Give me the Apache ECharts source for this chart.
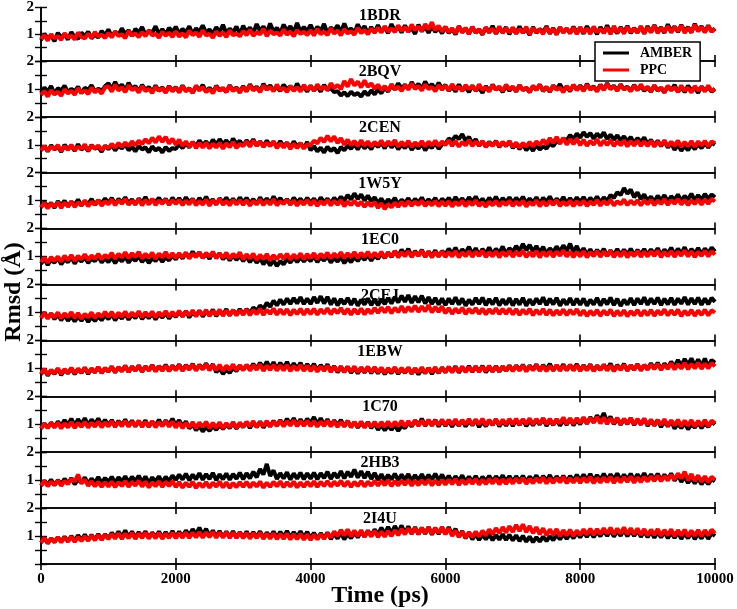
<!DOCTYPE html>
<html>
<head>
<meta charset="utf-8">
<script src="https://cdn.jsdelivr.net/npm/echarts@6/dist/echarts.min.js"></script>
<style>html,body{margin:0;padding:0;background:#fff}#c{width:737px;height:609px}</style>
</head>
<body>
<div id="c"></div>
<script>
const panelNames = ['1BDR','2BQV','2CEN','1W5Y','1EC0','2CEJ','1EBW','1C70','2HB3','2I4U'];
const xTicks = [0, 2000, 4000, 6000, 8000, 10000];
const yTickLabels = ['', '1', '2'];
const timeStep = 50; // ps between samples

const amber1BDR = [
0.78,1.02,0.85,0.96,0.74,1.05,0.88,0.99,0.8,1.08,0.9,0.83,1.06,0.92,1.1,0.84,0.99,0.87,1.12,0.95,
1.18,0.92,1.1,0.97,1.22,1.0,1.15,0.93,1.2,1.05,1.27,0.98,1.13,1.06,1.3,1.01,1.19,0.99,1.24,1.08,
1.28,1.02,1.2,1.06,1.3,0.99,1.22,1.1,1.33,1.04,1.18,1.01,1.26,1.08,1.35,1.03,1.21,1.07,1.29,1.0,
1.32,1.08,1.25,1.05,1.38,1.12,1.29,1.06,1.4,1.1,1.24,1.04,1.36,1.13,1.3,1.07,1.42,1.09,1.27,1.11,
1.35,1.06,1.28,1.12,1.39,1.03,1.25,1.14,1.33,1.07,1.4,1.1,1.22,1.05,1.37,1.13,1.3,1.02,1.27,1.08,
1.34,1.09,1.26,1.04,1.38,1.12,1.29,1.06,1.33,1.1,1.24,1.01,1.36,1.11,1.28,1.05,1.31,1.08,1.25,1.03,
1.27,1.04,1.2,0.99,1.3,1.07,1.22,1.01,1.28,1.05,1.18,0.98,1.25,1.06,1.31,1.02,1.21,1.08,1.26,1.0,
1.24,1.03,1.29,1.06,1.2,0.97,1.27,1.05,1.19,1.08,1.3,1.02,1.23,0.99,1.26,1.07,1.21,1.04,1.28,1.06,
1.25,1.02,1.3,1.08,1.22,1.0,1.27,1.05,1.33,1.07,1.2,1.03,1.26,1.09,1.31,1.04,1.23,1.06,1.28,1.02,
1.3,1.07,1.34,1.1,1.26,1.05,1.37,1.12,1.29,1.08,1.35,1.11,1.27,1.06,1.39,1.13,1.3,1.09,1.33,1.1,
1.22];
const ppc1BDR = [
0.82,0.97,0.76,1.0,0.85,0.93,0.79,1.04,0.88,0.95,0.8,1.06,0.9,0.84,1.02,0.87,1.08,0.91,0.98,0.86,
1.05,0.88,1.1,0.93,1.0,0.85,1.12,0.95,1.03,0.89,1.08,0.92,1.14,0.96,1.01,0.87,1.09,0.94,1.05,0.9,
1.11,0.91,1.04,0.88,1.13,0.97,1.06,0.9,1.15,0.95,1.02,0.87,1.1,0.94,1.07,0.89,1.14,0.96,1.03,0.92,
1.12,0.96,1.17,0.94,1.08,0.99,1.2,0.93,1.13,1.0,1.06,0.95,1.18,0.98,1.1,0.92,1.16,1.01,1.09,0.97,
1.15,0.95,1.2,1.0,1.1,0.97,1.22,1.02,1.14,0.96,1.19,1.03,1.11,0.98,1.24,1.04,1.16,1.0,1.21,1.05,
1.25,1.06,1.3,1.1,1.22,1.08,1.33,1.12,1.27,1.09,1.36,1.15,1.29,1.11,1.38,1.18,1.45,1.14,1.32,1.1,
1.28,1.07,1.22,1.03,1.3,1.06,1.24,1.01,1.27,1.05,1.19,1.0,1.26,1.08,1.21,1.02,1.29,1.04,1.23,1.06,
1.25,1.02,1.2,1.05,1.28,1.0,1.23,1.07,1.18,1.01,1.26,1.04,1.21,0.99,1.27,1.06,1.22,1.03,1.25,1.0,
1.27,1.05,1.22,1.01,1.29,1.07,1.2,1.04,1.26,1.0,1.31,1.06,1.23,1.02,1.28,1.08,1.21,1.05,1.3,1.03,
1.26,1.07,1.32,1.04,1.24,1.09,1.3,1.06,1.27,1.1,1.33,1.05,1.25,1.08,1.35,1.11,1.28,1.06,1.31,1.09,
1.2];

const amber2BQV = [
0.85,1.05,0.9,1.1,0.82,1.02,0.94,1.12,0.87,1.0,0.92,1.08,0.84,1.04,0.96,1.13,0.89,1.01,0.93,1.09,
1.2,0.98,1.25,1.03,1.15,0.95,1.22,1.0,1.1,0.92,1.14,0.96,1.07,0.89,1.12,0.94,1.05,0.88,1.1,0.93,
1.06,0.88,1.12,0.93,1.02,0.86,1.09,0.95,1.14,0.9,1.04,0.87,1.11,0.96,1.0,0.89,1.13,0.94,1.05,0.91,
1.1,0.93,1.16,0.97,1.08,0.91,1.18,1.0,1.12,0.95,1.07,0.92,1.15,0.98,1.1,0.94,1.19,0.96,1.06,0.9,
1.12,0.94,1.08,0.9,1.14,0.96,1.02,0.88,0.92,0.76,0.88,0.74,0.9,0.78,0.85,0.72,0.91,0.77,0.95,0.8,
0.98,0.84,1.05,0.9,1.12,0.98,1.2,1.02,1.15,0.99,1.24,1.04,1.18,1.0,1.26,1.05,1.17,0.98,1.22,1.01,
1.14,0.93,1.08,0.9,1.16,0.95,1.06,0.88,1.12,0.94,1.03,0.86,1.1,0.92,1.15,0.97,1.05,0.89,1.11,0.93,
1.07,0.9,1.13,0.95,1.04,0.88,1.1,0.96,1.15,0.92,1.06,0.89,1.12,0.98,1.17,0.94,1.08,0.91,1.14,0.97,
1.12,0.95,1.18,0.99,1.09,0.93,1.15,0.97,1.2,1.0,1.11,0.94,1.16,0.98,1.08,0.92,1.14,0.96,1.1,0.93,
1.06,0.89,1.12,0.94,1.03,0.87,1.1,0.95,1.14,0.9,1.05,0.88,1.11,0.96,1.02,0.86,1.09,0.93,1.07,0.9,
1.0];
const ppc2BQV = [
0.78,0.92,0.72,0.95,0.8,0.9,0.75,0.98,0.84,0.93,0.79,1.02,0.86,0.95,0.81,1.04,0.88,0.97,0.83,1.05,
1.1,0.9,1.15,0.94,1.06,0.88,1.12,0.96,1.04,0.87,1.1,0.92,1.0,0.85,1.08,0.93,1.02,0.86,1.09,0.91,
1.05,0.87,1.1,0.91,1.02,0.85,1.12,0.95,1.06,0.88,1.0,0.84,1.09,0.93,1.04,0.89,1.11,0.92,1.03,0.86,
1.08,0.9,1.13,0.94,1.05,0.88,1.12,0.97,1.07,0.91,1.15,0.95,1.04,0.89,1.1,0.93,1.06,0.9,1.14,0.96,
1.1,0.93,1.16,0.98,1.08,0.95,1.2,1.03,1.14,0.99,1.28,1.08,1.35,1.12,1.26,1.05,1.3,1.07,1.2,1.0,
1.15,0.96,1.1,0.93,1.17,0.98,1.08,0.92,1.14,0.97,1.19,1.0,1.1,0.94,1.16,0.99,1.07,0.91,1.13,0.97,
1.12,0.94,1.17,0.98,1.08,0.92,1.14,0.99,1.1,0.93,1.16,0.96,1.06,0.9,1.13,0.97,1.09,0.92,1.15,0.98,
1.08,0.91,1.13,0.95,1.05,0.89,1.11,0.96,1.15,0.93,1.07,0.9,1.12,0.97,1.04,0.88,1.1,0.94,1.14,0.95,
1.1,0.92,1.15,0.97,1.07,0.9,1.13,0.96,1.18,0.99,1.09,0.93,1.14,0.98,1.06,0.91,1.12,0.95,1.16,0.97,
1.08,0.9,1.13,0.94,1.05,0.89,1.11,0.95,1.06,0.88,1.12,0.93,1.04,0.87,1.1,0.94,1.07,0.9,1.12,0.92,
1.0];

const amber2CEN = [
0.8,0.95,0.76,0.98,0.83,0.93,0.74,1.0,0.85,0.96,0.78,1.02,0.82,0.94,0.77,0.99,0.86,0.92,0.75,0.97,
0.84,1.0,0.79,0.95,0.87,1.02,0.8,0.93,0.76,0.96,0.83,0.91,0.73,0.94,0.8,0.89,0.72,0.92,0.78,0.88,
0.85,1.02,0.88,1.05,0.9,1.1,0.95,1.15,0.99,1.12,0.96,1.18,1.0,1.2,1.02,1.16,0.98,1.22,1.03,1.14,
0.97,1.16,1.0,1.2,0.96,1.12,0.94,1.15,0.98,1.1,0.92,1.13,0.95,1.08,0.9,1.12,0.94,1.06,0.88,1.1,
0.8,0.95,0.76,0.9,0.72,0.93,0.78,0.88,0.7,0.92,0.8,0.98,0.85,1.02,0.83,1.05,0.87,1.0,0.84,1.06,
0.92,1.08,0.87,1.1,0.9,1.05,0.84,1.0,0.88,1.06,0.82,0.98,0.86,1.04,0.8,0.97,0.89,1.08,0.85,1.01,
1.05,1.22,1.15,1.32,1.2,1.38,1.14,1.28,1.05,1.2,0.96,1.12,0.93,1.1,0.97,1.14,0.92,1.09,0.95,1.12,
0.88,1.05,0.84,1.02,0.8,0.97,0.78,1.0,0.83,0.95,0.86,1.05,0.95,1.12,1.06,1.22,1.15,1.35,1.2,1.4,
1.25,1.45,1.28,1.42,1.22,1.4,1.26,1.44,1.2,1.36,1.18,1.34,1.15,1.3,1.12,1.28,1.06,1.24,1.1,1.26,
1.02,1.18,0.98,1.15,0.95,1.12,0.9,1.06,0.82,1.0,0.78,0.96,0.8,1.0,0.84,1.02,0.88,1.06,0.9,1.08,
1.0];
const ppc2CEN = [
0.8,0.96,0.78,0.94,0.84,0.99,0.77,0.95,0.82,1.0,0.8,0.93,0.85,1.01,0.79,0.97,0.86,0.98,0.81,0.95,
0.88,1.03,0.9,1.06,0.93,1.08,0.95,1.12,0.98,1.15,1.02,1.2,1.05,1.25,1.08,1.3,1.1,1.28,1.04,1.22,
1.0,1.18,0.96,1.12,0.92,1.1,0.88,1.06,0.9,1.08,0.87,1.04,0.9,1.07,0.86,1.05,0.91,1.1,0.88,1.03,
0.95,1.12,0.93,1.15,0.97,1.11,0.92,1.08,0.95,1.13,0.88,1.05,0.9,1.07,0.85,1.04,0.88,1.06,0.86,1.02,
0.98,1.15,1.05,1.25,1.1,1.32,1.12,1.3,1.06,1.24,1.0,1.18,0.98,1.14,0.95,1.16,0.97,1.12,0.94,1.1,
0.98,1.15,0.95,1.12,0.99,1.16,0.93,1.1,0.97,1.14,0.92,1.08,0.96,1.13,0.94,1.11,0.98,1.15,0.95,1.12,
0.99,1.16,0.96,1.13,0.93,1.1,0.98,1.17,0.95,1.12,0.97,1.14,0.92,1.08,0.96,1.12,0.94,1.1,0.97,1.13,
0.92,1.08,0.9,1.06,0.93,1.1,0.94,1.12,0.98,1.18,1.02,1.24,1.06,1.28,1.04,1.25,1.0,1.2,1.02,1.22,
0.98,1.18,0.96,1.14,1.0,1.2,0.97,1.15,0.99,1.17,0.95,1.12,0.98,1.16,0.94,1.13,0.97,1.15,0.96,1.12,
0.95,1.14,0.93,1.12,0.97,1.16,0.94,1.11,0.96,1.15,0.92,1.1,0.95,1.13,0.93,1.12,0.97,1.14,0.94,1.12,
1.05];

const amber1W5Y = [
0.76,0.95,0.8,0.92,0.74,0.98,0.84,1.0,0.79,0.96,0.86,1.04,0.82,0.99,0.88,1.06,0.85,1.02,0.9,1.08,
0.92,1.1,0.88,1.06,0.94,1.12,0.9,1.05,0.86,1.08,0.93,1.13,0.89,1.04,0.95,1.1,0.91,1.07,0.87,1.11,
0.93,1.09,0.89,1.12,0.95,1.06,0.88,1.1,0.92,1.14,0.9,1.05,0.86,1.08,0.94,1.11,0.91,1.07,0.88,1.12,
0.94,1.1,0.9,1.06,0.87,1.12,0.93,1.08,0.89,1.15,0.95,1.09,0.91,1.05,0.88,1.11,0.94,1.07,0.9,1.1,
0.92,1.08,0.88,1.12,0.94,1.07,0.9,1.1,0.96,1.14,1.0,1.2,1.04,1.26,1.06,1.22,1.0,1.18,0.98,1.12,
0.9,1.08,0.87,1.05,0.92,1.1,0.86,1.04,0.91,1.09,0.88,1.06,0.93,1.11,0.89,1.05,0.92,1.1,0.87,1.07,
0.94,1.1,0.9,1.13,0.95,1.08,0.91,1.12,0.96,1.15,0.92,1.07,0.88,1.11,0.94,1.14,0.9,1.09,0.95,1.12,
0.92,1.1,0.95,1.14,0.9,1.08,0.93,1.12,0.89,1.1,0.96,1.15,0.91,1.07,0.94,1.13,0.9,1.09,0.93,1.12,
0.95,1.13,0.91,1.1,0.96,1.15,0.93,1.12,0.98,1.2,1.1,1.3,1.2,1.45,1.25,1.4,1.12,1.3,1.05,1.22,
0.98,1.15,0.95,1.18,1.0,1.2,0.96,1.16,1.02,1.22,0.98,1.17,1.04,1.25,1.0,1.2,1.03,1.24,1.06,1.22,
1.12];
const ppc1W5Y = [
0.76,0.92,0.72,0.9,0.78,0.95,0.74,0.93,0.8,0.97,0.77,0.94,0.83,1.0,0.8,0.96,0.85,1.02,0.82,0.98,
0.87,1.04,0.84,1.02,0.89,1.06,0.85,1.0,0.88,1.05,0.83,1.03,0.86,1.07,0.84,1.01,0.89,1.04,0.85,1.02,
0.88,1.03,0.84,1.0,0.87,1.05,0.83,0.99,0.86,1.04,0.82,1.01,0.88,1.06,0.85,1.0,0.83,1.03,0.86,1.02,
0.85,1.02,0.82,0.99,0.87,1.04,0.84,1.0,0.86,1.05,0.83,0.98,0.88,1.03,0.85,1.01,0.82,0.99,0.86,1.03,
0.84,1.01,0.81,0.98,0.86,1.03,0.83,1.0,0.85,1.02,0.8,0.97,0.84,1.0,0.82,0.96,0.78,0.94,0.8,0.95,
0.74,0.9,0.7,0.88,0.76,0.93,0.78,0.96,0.8,0.98,0.82,0.97,0.84,1.0,0.81,0.96,0.83,0.99,0.8,0.97,
0.82,0.98,0.79,0.96,0.83,1.0,0.8,0.97,0.84,1.01,0.81,0.95,0.78,0.97,0.83,0.99,0.8,0.96,0.84,1.0,
0.81,0.97,0.83,1.0,0.79,0.95,0.84,1.01,0.8,0.97,0.82,0.99,0.85,1.02,0.81,0.96,0.83,1.0,0.8,0.98,
0.84,1.0,0.81,0.97,0.85,1.02,0.82,0.99,0.86,1.03,0.83,0.98,0.87,1.04,0.84,1.0,0.86,1.02,0.83,1.01,
0.87,1.03,0.84,1.01,0.88,1.05,0.85,1.02,0.89,1.06,0.86,1.03,0.84,1.01,0.88,1.05,0.86,1.04,0.89,1.06,
0.97];

const amber1EC0 = [
0.74,0.92,0.7,0.88,0.78,0.95,0.72,0.9,0.8,0.97,0.75,0.93,0.82,0.98,0.77,0.92,0.84,1.0,0.79,0.94,
0.8,0.98,0.76,0.95,0.83,1.01,0.78,0.96,0.85,1.02,0.8,0.97,0.77,0.94,0.84,1.0,0.81,0.98,0.86,1.03,
0.9,1.08,0.93,1.12,0.96,1.18,1.0,1.15,0.95,1.1,0.92,1.14,0.97,1.12,0.9,1.06,0.86,1.04,0.88,1.02,
0.84,1.0,0.8,0.97,0.78,0.94,0.72,0.9,0.68,0.86,0.66,0.84,0.72,0.92,0.78,0.96,0.8,0.98,0.82,0.97,
0.84,1.02,0.8,0.98,0.85,1.03,0.78,0.95,0.82,1.0,0.76,0.94,0.8,0.99,0.84,1.02,0.88,1.06,0.85,1.04,
0.92,1.1,0.95,1.14,0.98,1.2,1.02,1.25,1.06,1.28,1.0,1.2,1.03,1.24,0.99,1.18,1.02,1.22,1.0,1.2,
1.08,1.28,1.1,1.32,1.06,1.26,1.12,1.35,1.08,1.3,1.05,1.27,1.1,1.33,1.07,1.28,1.13,1.36,1.1,1.3,
1.16,1.38,1.2,1.45,1.22,1.42,1.18,1.38,1.14,1.35,1.1,1.3,1.15,1.36,1.18,1.4,1.2,1.46,1.16,1.38,
1.1,1.3,1.06,1.26,1.04,1.24,1.08,1.28,1.02,1.22,1.06,1.27,1.03,1.25,1.07,1.28,1.04,1.24,1.08,1.27,
1.06,1.26,1.09,1.3,1.05,1.25,1.1,1.32,1.07,1.28,1.11,1.33,1.06,1.27,1.1,1.31,1.08,1.29,1.12,1.32,
1.18];
const ppc1EC0 = [
0.8,0.96,0.78,0.98,0.84,1.0,0.82,1.03,0.87,1.05,0.85,1.02,0.9,1.08,0.88,1.04,0.92,1.1,0.9,1.06,
0.95,1.13,0.92,1.1,0.97,1.15,0.94,1.12,0.98,1.17,0.93,1.1,0.96,1.14,0.92,1.11,0.97,1.16,0.95,1.12,
0.94,1.12,0.97,1.15,0.93,1.1,0.98,1.16,0.95,1.13,0.99,1.17,0.94,1.11,0.96,1.14,0.92,1.1,0.97,1.15,
0.9,1.08,0.93,1.1,0.88,1.06,0.91,1.09,0.87,1.05,0.9,1.08,0.92,1.1,0.89,1.07,0.93,1.11,0.9,1.09,
0.94,1.12,0.91,1.1,0.96,1.14,0.93,1.11,0.97,1.15,0.94,1.12,0.98,1.16,0.95,1.13,0.99,1.17,0.96,1.14,
0.98,1.17,0.96,1.15,1.0,1.2,0.97,1.16,1.01,1.19,0.98,1.17,1.02,1.21,0.99,1.18,0.97,1.16,1.0,1.19,
0.98,1.17,1.0,1.2,0.97,1.15,1.01,1.19,0.99,1.18,1.02,1.21,0.98,1.16,1.0,1.19,0.97,1.17,1.01,1.2,
0.99,1.18,1.02,1.21,0.98,1.16,1.0,1.2,0.97,1.17,1.01,1.19,0.99,1.18,1.03,1.22,1.0,1.18,0.98,1.17,
1.0,1.19,0.97,1.16,1.01,1.2,0.99,1.18,1.02,1.21,0.98,1.17,1.0,1.19,0.97,1.16,1.01,1.2,0.99,1.18,
1.0,1.19,1.02,1.21,0.98,1.17,1.01,1.2,0.99,1.18,1.03,1.22,1.0,1.19,0.98,1.17,1.02,1.21,1.0,1.19,
1.07];

const amber2CEJ = [
0.82,1.0,0.8,0.96,0.76,0.92,0.72,0.9,0.7,0.86,0.68,0.85,0.7,0.88,0.66,0.84,0.69,0.86,0.72,0.9,
0.76,0.94,0.72,0.9,0.78,0.96,0.74,0.92,0.8,0.98,0.76,0.93,0.79,0.97,0.75,0.94,0.81,0.99,0.78,0.96,
0.84,1.02,0.86,1.05,0.82,1.0,0.88,1.07,0.85,1.04,0.9,1.1,0.87,1.06,0.92,1.12,0.89,1.08,0.93,1.12,
0.94,1.12,0.98,1.18,1.05,1.25,1.12,1.35,1.2,1.42,1.25,1.46,1.28,1.5,1.3,1.52,1.32,1.55,1.3,1.5,
1.3,1.55,1.34,1.58,1.32,1.56,1.28,1.5,1.25,1.48,1.3,1.52,1.27,1.49,1.24,1.46,1.28,1.5,1.26,1.48,
1.26,1.48,1.3,1.52,1.32,1.56,1.36,1.6,1.38,1.62,1.34,1.58,1.36,1.6,1.32,1.55,1.3,1.52,1.28,1.5,
1.26,1.5,1.3,1.54,1.28,1.5,1.24,1.46,1.28,1.52,1.3,1.53,1.26,1.48,1.29,1.52,1.25,1.47,1.28,1.51,
1.25,1.48,1.28,1.52,1.24,1.47,1.27,1.5,1.3,1.54,1.26,1.49,1.29,1.52,1.24,1.47,1.28,1.51,1.26,1.49,
1.27,1.5,1.24,1.46,1.28,1.52,1.25,1.48,1.29,1.53,1.26,1.49,1.23,1.46,1.28,1.51,1.26,1.5,1.3,1.54,
1.27,1.5,1.3,1.53,1.26,1.49,1.29,1.52,1.27,1.5,1.31,1.55,1.28,1.51,1.3,1.53,1.27,1.5,1.29,1.52,
1.38];
const ppc2CEJ = [
0.8,0.98,0.78,0.96,0.82,1.0,0.79,0.97,0.83,1.01,0.8,0.98,0.77,0.95,0.82,1.0,0.8,0.97,0.83,1.02,
0.84,1.02,0.81,0.99,0.85,1.03,0.82,1.0,0.86,1.04,0.83,1.01,0.85,1.03,0.82,1.0,0.87,1.05,0.84,1.02,
0.87,1.06,0.85,1.04,0.89,1.08,0.86,1.05,0.9,1.09,0.87,1.06,0.91,1.1,0.88,1.07,0.9,1.09,0.89,1.08,
0.92,1.11,0.9,1.09,0.94,1.13,0.91,1.1,0.95,1.14,0.92,1.11,0.93,1.12,0.9,1.1,0.94,1.13,0.92,1.12,
0.94,1.13,0.92,1.11,0.96,1.15,0.93,1.12,0.97,1.16,0.94,1.13,0.92,1.12,0.95,1.14,0.93,1.12,0.96,1.16,
0.98,1.18,1.0,1.2,0.97,1.17,1.01,1.22,1.0,1.2,1.03,1.24,1.02,1.22,1.04,1.26,1.0,1.2,1.02,1.22,
0.97,1.16,0.95,1.14,0.98,1.17,0.94,1.13,0.97,1.16,0.95,1.14,0.93,1.12,0.96,1.15,0.94,1.13,0.95,1.14,
0.93,1.12,0.91,1.1,0.94,1.13,0.9,1.09,0.93,1.12,0.91,1.1,0.89,1.08,0.92,1.11,0.9,1.09,0.93,1.12,
0.89,1.08,0.87,1.06,0.9,1.09,0.88,1.07,0.91,1.1,0.87,1.06,0.89,1.08,0.86,1.05,0.9,1.09,0.88,1.07,
0.9,1.09,0.88,1.07,0.92,1.11,0.89,1.08,0.91,1.1,0.87,1.06,0.9,1.09,0.88,1.07,0.91,1.1,0.89,1.08,
0.99];

const amber1EBW = [
0.78,0.96,0.74,0.93,0.8,0.98,0.76,0.95,0.82,1.0,0.79,0.97,0.84,1.02,0.8,0.98,0.86,1.04,0.83,1.0,
0.88,1.06,0.85,1.04,0.9,1.09,0.87,1.06,0.92,1.1,0.88,1.07,0.93,1.12,0.9,1.08,0.94,1.13,0.91,1.1,
0.95,1.14,0.92,1.12,0.97,1.16,0.94,1.13,0.98,1.18,0.95,1.15,0.86,1.0,0.8,0.96,0.84,1.02,0.9,1.1,
0.94,1.12,0.97,1.16,0.99,1.2,1.02,1.24,1.0,1.22,0.98,1.2,1.01,1.23,0.97,1.18,0.99,1.2,0.95,1.15,
0.96,1.16,0.93,1.12,0.95,1.14,0.9,1.08,0.86,1.04,0.88,1.06,0.84,1.02,0.82,1.0,0.85,1.03,0.83,1.0,
0.82,1.0,0.79,0.97,0.83,1.01,0.8,0.98,0.84,1.02,0.81,0.99,0.78,0.96,0.83,1.01,0.8,0.98,0.84,1.03,
0.86,1.04,0.88,1.07,0.85,1.03,0.89,1.08,0.87,1.05,0.9,1.09,0.86,1.04,0.89,1.08,0.88,1.06,0.91,1.1,
0.92,1.1,0.94,1.13,0.91,1.1,0.95,1.14,0.93,1.12,0.96,1.16,0.92,1.11,0.95,1.14,0.93,1.12,0.96,1.15,
0.92,1.11,0.95,1.14,0.91,1.1,0.94,1.13,0.97,1.17,0.93,1.12,0.96,1.16,0.92,1.11,0.95,1.15,0.93,1.12,
0.98,1.18,1.0,1.2,0.97,1.17,1.02,1.24,1.05,1.3,1.1,1.34,1.12,1.36,1.08,1.32,1.1,1.35,1.06,1.3,
1.2];
const ppc1EBW = [
0.8,0.98,0.77,0.95,0.82,1.0,0.8,0.97,0.84,1.02,0.82,0.99,0.85,1.03,0.83,1.0,0.86,1.05,0.84,1.02,
0.88,1.07,0.86,1.05,0.9,1.09,0.87,1.06,0.91,1.1,0.88,1.07,0.92,1.11,0.89,1.08,0.91,1.1,0.9,1.09,
0.93,1.12,0.91,1.1,0.95,1.14,0.92,1.11,0.96,1.15,0.93,1.12,0.94,1.13,0.91,1.1,0.95,1.14,0.93,1.12,
0.94,1.13,0.92,1.11,0.95,1.14,0.91,1.1,0.94,1.13,0.92,1.11,0.93,1.12,0.9,1.09,0.93,1.12,0.91,1.1,
0.9,1.09,0.88,1.07,0.91,1.1,0.87,1.06,0.89,1.08,0.86,1.05,0.88,1.07,0.85,1.04,0.87,1.06,0.86,1.05,
0.85,1.03,0.83,1.01,0.86,1.04,0.84,1.02,0.85,1.03,0.82,1.0,0.85,1.04,0.83,1.01,0.86,1.04,0.84,1.02,
0.87,1.06,0.85,1.04,0.88,1.07,0.86,1.05,0.89,1.08,0.87,1.06,0.9,1.09,0.88,1.07,0.89,1.08,0.91,1.1,
0.9,1.09,0.92,1.11,0.89,1.08,0.93,1.12,0.91,1.1,0.9,1.09,0.93,1.12,0.91,1.1,0.94,1.13,0.92,1.11,
0.91,1.1,0.93,1.12,0.9,1.09,0.94,1.13,0.92,1.11,0.9,1.09,0.94,1.13,0.92,1.11,0.95,1.14,0.93,1.12,
0.95,1.14,0.97,1.16,0.94,1.13,0.98,1.18,0.96,1.15,0.99,1.19,0.97,1.16,1.0,1.2,0.98,1.17,1.0,1.19,
1.07];

const amber1C70 = [
0.85,1.03,0.88,1.06,0.9,1.1,0.95,1.15,0.98,1.2,0.96,1.18,1.0,1.22,0.97,1.17,1.0,1.21,0.96,1.16,
0.96,1.15,0.93,1.12,0.97,1.17,0.94,1.13,0.92,1.1,0.95,1.14,0.91,1.1,0.96,1.16,0.94,1.14,0.98,1.2,
0.96,1.15,0.92,1.1,0.85,1.0,0.78,0.94,0.74,0.9,0.76,0.93,0.8,0.97,0.83,1.0,0.86,1.04,0.84,1.02,
0.9,1.08,0.87,1.05,0.91,1.1,0.88,1.06,0.93,1.12,0.95,1.15,0.98,1.2,1.0,1.22,0.97,1.18,0.99,1.2,
1.04,1.26,1.0,1.22,0.98,1.18,0.94,1.14,0.96,1.16,0.92,1.12,0.9,1.08,0.88,1.06,0.9,1.08,0.86,1.04,
0.8,0.98,0.78,0.95,0.8,0.98,0.76,0.94,0.86,1.06,0.92,1.14,0.97,1.2,0.94,1.14,0.96,1.16,0.92,1.12,
0.94,1.14,0.91,1.1,0.95,1.15,0.92,1.12,0.96,1.16,0.9,1.09,0.93,1.13,0.97,1.18,0.92,1.12,0.95,1.15,
0.94,1.14,0.97,1.17,0.93,1.13,0.96,1.16,0.99,1.2,0.94,1.14,0.97,1.18,0.95,1.15,0.98,1.2,0.96,1.16,
1.0,1.22,1.02,1.25,1.08,1.32,1.15,1.4,1.08,1.28,1.0,1.2,0.98,1.18,1.01,1.22,0.97,1.17,0.99,1.2,
0.94,1.14,0.96,1.16,0.9,1.1,0.92,1.12,0.84,1.02,0.86,1.05,0.82,1.0,0.88,1.07,0.86,1.04,0.9,1.1,
0.99];
const ppc1C70 = [
0.84,1.02,0.86,1.04,0.88,1.06,0.85,1.03,0.89,1.08,0.87,1.05,0.9,1.09,0.88,1.06,0.91,1.1,0.89,1.07,
0.92,1.11,0.9,1.09,0.93,1.12,0.91,1.1,0.94,1.13,0.9,1.09,0.92,1.11,0.89,1.08,0.93,1.12,0.91,1.1,
0.88,1.07,0.86,1.05,0.89,1.08,0.87,1.06,0.9,1.09,0.86,1.05,0.88,1.07,0.85,1.04,0.89,1.08,0.87,1.06,
0.9,1.09,0.92,1.11,0.89,1.08,0.93,1.12,0.91,1.1,0.94,1.13,0.92,1.11,0.95,1.14,0.93,1.12,0.94,1.13,
0.93,1.12,0.91,1.1,0.94,1.13,0.92,1.11,0.9,1.09,0.93,1.12,0.89,1.08,0.91,1.1,0.88,1.07,0.9,1.09,
0.89,1.08,0.91,1.1,0.9,1.09,0.93,1.12,0.92,1.11,0.95,1.14,0.94,1.13,0.96,1.16,0.95,1.14,0.97,1.17,
0.96,1.16,0.98,1.18,0.95,1.15,0.99,1.19,0.97,1.17,1.0,1.2,0.96,1.16,0.98,1.18,0.97,1.17,0.99,1.19,
1.0,1.2,0.98,1.18,1.01,1.21,0.99,1.19,1.02,1.22,1.0,1.2,0.98,1.18,1.03,1.24,1.01,1.21,1.02,1.22,
1.04,1.25,1.02,1.23,1.05,1.26,1.03,1.24,1.01,1.21,1.03,1.23,1.0,1.2,1.02,1.22,0.99,1.19,1.0,1.2,
0.97,1.17,0.95,1.15,0.98,1.18,0.94,1.14,0.96,1.16,0.93,1.13,0.95,1.15,0.92,1.12,0.95,1.15,0.93,1.13,
1.03];

const amber2HB3 = [
0.8,0.98,0.84,1.02,0.82,1.0,0.86,1.05,0.88,1.08,0.85,1.04,0.9,1.1,0.87,1.06,0.91,1.11,0.89,1.08,
0.93,1.12,0.91,1.1,0.95,1.14,0.92,1.12,0.96,1.16,0.93,1.13,0.9,1.1,0.94,1.14,0.92,1.12,0.96,1.17,
1.0,1.2,1.02,1.23,0.99,1.2,1.03,1.25,1.01,1.22,1.04,1.26,1.0,1.21,1.03,1.24,1.01,1.22,1.05,1.27,
1.03,1.25,1.06,1.3,1.1,1.4,1.2,1.58,1.15,1.35,1.04,1.25,1.06,1.28,1.02,1.24,1.05,1.27,1.03,1.25,
1.05,1.27,1.03,1.25,1.07,1.3,1.04,1.26,1.08,1.32,1.06,1.3,1.12,1.38,1.09,1.32,1.07,1.3,1.04,1.26,
1.0,1.21,0.98,1.19,1.02,1.23,0.99,1.2,1.01,1.22,0.97,1.18,1.0,1.21,0.98,1.19,1.02,1.23,0.99,1.2,
0.96,1.16,0.94,1.14,0.97,1.17,0.93,1.13,0.95,1.15,0.92,1.12,0.96,1.16,0.94,1.14,0.97,1.17,0.95,1.15,
0.94,1.14,0.96,1.16,0.93,1.13,0.97,1.17,0.95,1.15,0.98,1.18,0.94,1.14,0.96,1.16,0.95,1.15,0.98,1.19,
0.99,1.2,1.01,1.22,0.98,1.18,1.02,1.23,1.0,1.21,1.03,1.24,0.99,1.2,1.02,1.23,1.0,1.21,1.03,1.25,
1.0,1.21,1.02,1.23,0.99,1.2,1.03,1.24,0.98,1.18,0.94,1.12,0.9,1.08,0.88,1.06,0.85,1.03,0.86,1.04,
0.96];
const ppc2HB3 = [
0.8,0.97,0.78,0.95,0.82,0.99,0.8,0.97,0.86,1.05,0.95,1.2,0.88,1.02,0.8,0.96,0.78,0.94,0.76,0.93,
0.77,0.95,0.75,0.93,0.79,0.97,0.76,0.94,0.8,0.98,0.77,0.95,0.74,0.92,0.78,0.96,0.76,0.94,0.79,0.97,
0.75,0.93,0.73,0.91,0.76,0.94,0.72,0.9,0.75,0.93,0.73,0.91,0.77,0.95,0.74,0.92,0.72,0.9,0.75,0.93,
0.76,0.94,0.74,0.92,0.77,0.95,0.73,0.91,0.76,0.94,0.78,0.96,0.75,0.93,0.77,0.95,0.74,0.92,0.76,0.94,
0.78,0.96,0.76,0.94,0.79,0.97,0.77,0.95,0.8,0.98,0.78,0.96,0.76,0.94,0.79,0.97,0.77,0.95,0.8,0.98,
0.8,0.98,0.82,1.0,0.79,0.97,0.81,0.99,0.83,1.01,0.8,0.98,0.82,1.0,0.84,1.02,0.81,0.99,0.83,1.01,
0.84,1.02,0.86,1.04,0.83,1.01,0.85,1.03,0.87,1.05,0.84,1.02,0.86,1.04,0.88,1.06,0.85,1.03,0.87,1.05,
0.88,1.06,0.9,1.08,0.87,1.05,0.89,1.07,0.91,1.1,0.88,1.06,0.9,1.08,0.92,1.11,0.89,1.07,0.91,1.09,
0.9,1.09,0.92,1.11,0.89,1.08,0.91,1.1,0.93,1.12,0.9,1.09,0.92,1.11,0.94,1.13,0.91,1.1,0.93,1.12,
0.95,1.14,0.97,1.16,0.96,1.15,0.99,1.19,1.02,1.24,1.06,1.3,1.0,1.22,0.97,1.17,0.94,1.14,0.92,1.12,
1.01];

const amber2I4U = [
0.76,0.94,0.74,0.92,0.78,0.96,0.8,0.98,0.82,1.0,0.84,1.03,0.86,1.05,0.85,1.04,0.88,1.07,0.87,1.06,
0.92,1.12,0.95,1.16,0.98,1.2,0.96,1.16,0.94,1.14,0.97,1.17,0.93,1.13,0.96,1.16,0.94,1.14,0.97,1.18,
0.95,1.16,0.98,1.2,1.02,1.25,1.06,1.3,1.04,1.26,1.0,1.2,0.98,1.18,0.96,1.16,0.97,1.17,0.94,1.14,
0.96,1.16,0.94,1.14,0.97,1.17,0.93,1.13,0.96,1.16,0.95,1.15,0.98,1.18,0.94,1.14,0.97,1.17,0.95,1.15,
0.92,1.12,0.9,1.1,0.93,1.13,0.89,1.09,0.91,1.11,0.88,1.08,0.92,1.12,0.95,1.16,0.98,1.2,1.01,1.24,
1.06,1.3,1.08,1.33,1.1,1.36,1.12,1.38,1.1,1.35,1.08,1.32,1.06,1.3,1.08,1.32,1.05,1.28,1.07,1.3,
1.08,1.32,1.04,1.26,0.98,1.18,0.92,1.12,0.88,1.07,0.86,1.05,0.88,1.07,0.85,1.04,0.87,1.06,0.86,1.05,
0.84,1.03,0.82,1.01,0.8,0.98,0.78,0.96,0.8,0.98,0.82,1.0,0.85,1.04,0.88,1.07,0.9,1.09,0.92,1.12,
0.95,1.15,0.97,1.17,0.96,1.16,0.99,1.2,1.0,1.21,0.98,1.18,1.01,1.22,0.99,1.2,1.0,1.21,0.97,1.17,
0.96,1.16,0.94,1.14,0.95,1.15,0.92,1.12,0.93,1.13,0.9,1.1,0.92,1.12,0.89,1.09,0.91,1.11,0.9,1.1,
1.0];
const ppc2I4U = [
0.76,0.94,0.74,0.92,0.78,0.96,0.77,0.95,0.8,0.98,0.79,0.97,0.82,1.0,0.83,1.02,0.85,1.04,0.86,1.05,
0.89,1.08,0.91,1.1,0.9,1.09,0.92,1.11,0.9,1.09,0.93,1.12,0.91,1.1,0.92,1.11,0.9,1.09,0.93,1.12,
0.92,1.11,0.94,1.13,0.93,1.12,0.95,1.14,0.94,1.13,0.96,1.15,0.94,1.13,0.95,1.14,0.93,1.12,0.94,1.13,
0.92,1.11,0.91,1.1,0.93,1.12,0.9,1.09,0.91,1.1,0.89,1.08,0.9,1.09,0.88,1.07,0.89,1.08,0.87,1.06,
0.86,1.05,0.88,1.07,0.9,1.1,0.95,1.16,1.0,1.22,1.02,1.24,0.99,1.2,1.0,1.21,0.97,1.18,0.98,1.19,
0.96,1.16,0.98,1.18,1.0,1.21,1.03,1.25,1.06,1.28,1.08,1.3,1.07,1.29,1.09,1.32,1.08,1.3,1.1,1.33,
1.06,1.28,1.0,1.2,0.96,1.16,0.94,1.14,0.96,1.16,0.98,1.19,1.02,1.24,1.06,1.28,1.1,1.32,1.12,1.35,
1.15,1.4,1.18,1.42,1.14,1.36,1.1,1.32,1.06,1.28,1.02,1.24,1.04,1.25,1.0,1.21,1.02,1.23,1.0,1.2,
1.03,1.24,1.05,1.26,1.04,1.25,1.07,1.28,1.08,1.3,1.06,1.27,1.09,1.31,1.07,1.28,1.06,1.27,1.04,1.25,
1.02,1.23,1.04,1.25,1.01,1.22,1.03,1.24,1.0,1.21,1.02,1.23,0.99,1.2,1.01,1.22,1.0,1.21,1.02,1.23,
1.1];

const amberSets = [amber1BDR, amber2BQV, amber2CEN, amber1W5Y, amber1EC0, amber2CEJ, amber1EBW, amber1C70, amber2HB3, amber2I4U];
const ppcSets = [ppc1BDR, ppc2BQV, ppc2CEN, ppc1W5Y, ppc1EC0, ppc2CEJ, ppc1EBW, ppc1C70, ppc2HB3, ppc2I4U];

const FONT = 'Liberation Serif';
const plotLeft = 41, plotRight = 22, plotTop = 5, panelH = 55.9;
const n = panelNames.length;

const grids = [], xAxes = [], yAxes = [], series = [], titles = [];
for (let i = 0; i < n; i++) {
  const top = plotTop + i * panelH;
  grids.push({ left: plotLeft, right: plotRight, top: top, height: panelH });
  const axLine = { show: true, lineStyle: { color: '#000', width: 1.6 } };
  xAxes.push({
    type: 'value', gridIndex: i, min: xTicks[0], max: xTicks[xTicks.length - 1], interval: 2000,
    position: 'bottom', axisLine: axLine, splitLine: { show: false },
    axisTick: { show: true, inside: true, length: 6, lineStyle: { color: '#000', width: 1.6 } },
    axisLabel: { show: i === n - 1, color: '#000', fontFamily: FONT, fontWeight: 'bold', fontSize: 15, margin: 8,
      formatter: v => String(v) }
  });
  xAxes.push({
    type: 'value', gridIndex: i, min: xTicks[0], max: xTicks[xTicks.length - 1], interval: 2000,
    position: 'top', axisLine: axLine, splitLine: { show: false },
    axisTick: { show: true, inside: true, length: 6, lineStyle: { color: '#000', width: 1.6 } },
    axisLabel: { show: false }
  });
  const yCommon = {
    type: 'value', gridIndex: i, min: 0, max: 2, interval: 1,
    axisLine: axLine, splitLine: { show: false },
    axisTick: { show: true, inside: true, length: 6, lineStyle: { color: '#000', width: 1.4 } },
    minorTick: { show: true, splitNumber: 2, length: 6, lineStyle: { color: '#000', width: 1.4 } }
  };
  yAxes.push(Object.assign({}, yCommon, {
    position: 'left',
    axisLabel: { show: true, margin: 7, color: '#000', fontFamily: FONT, fontWeight: 'bold', fontSize: 15,
      formatter: v => yTickLabels[Math.round(v)] }
  }));
  yAxes.push(Object.assign({}, yCommon, { position: 'right', axisLabel: { show: false } }));
  titles.push({
    text: panelNames[i], left: 380, top: top + 3, textAlign: 'center', padding: 0,
    textStyle: { fontFamily: FONT, fontWeight: 'bold', fontSize: 16, color: '#000' }
  });
}
const LW = 4;
for (let i = 0; i < n; i++) {
  series.push({
    name: 'AMBER', type: 'line', xAxisIndex: 2 * i, yAxisIndex: 2 * i,
    data: amberSets[i].map((v, k) => [k * timeStep, v]),
    symbol: 'none', showSymbol: false, color: '#000',
    lineStyle: { color: '#000', width: LW, join: 'bevel' }, z: 2
  });
}
for (let i = 0; i < n; i++) {
  series.push({
    name: 'PPC', type: 'line', xAxisIndex: 2 * i, yAxisIndex: 2 * i,
    data: ppcSets[i].map((v, k) => [k * timeStep, v]),
    symbol: 'none', showSymbol: false, color: '#ff0000',
    lineStyle: { color: '#ff0000', width: LW, join: 'bevel' }, z: 3
  });
}

const chart = echarts.init(document.getElementById('c'), null, { renderer: 'canvas' });
chart.setOption({
  animation: false,
  backgroundColor: '#fff',
  title: titles,
  grid: grids,
  xAxis: xAxes,
  yAxis: yAxes,
  legend: {
    data: [{ name: 'AMBER', icon: 'rect' }, { name: 'PPC', icon: 'rect' }],
    orient: 'vertical', left: 595, top: 42,
    backgroundColor: '#fff', borderColor: '#000', borderWidth: 1.5, borderRadius: 0,
    padding: [4, 8, 4, 8], itemGap: 3, itemWidth: 26, itemHeight: 3, z: 10,
    itemStyle: { borderWidth: 0 },
    textStyle: { fontFamily: FONT, fontWeight: 'bold', fontSize: 14, color: '#000', padding: [0, 0, 0, 6] }
  },
  graphic: [
    { type: 'text', x: 14, y: 292, rotation: Math.PI / 2,
      style: { text: 'Rmsd (Å)', fill: '#000', font: 'bold 24px "Liberation Serif"', textAlign: 'center', textVerticalAlign: 'middle' } },
    { type: 'text', x: 380, y: 596,
      style: { text: 'Time (ps)', fill: '#000', font: 'bold 24px "Liberation Serif"', textAlign: 'center', textVerticalAlign: 'middle' } }
  ],
  series: series
});
</script>
</body>
</html>
